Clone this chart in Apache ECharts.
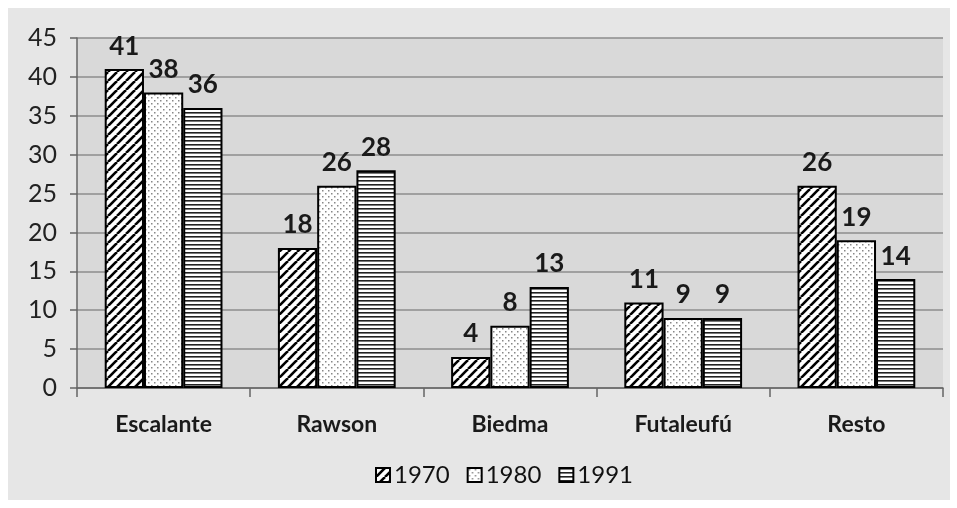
<!DOCTYPE html>
<html>
<head>
<meta charset="utf-8">
<script src="https://cdn.jsdelivr.net/npm/echarts@6/dist/echarts.min.js"></script>
<style>
  html, body { margin: 0; padding: 0; background: #fff; }
  #chart { width: 957px; height: 508px; }
</style>
</head>
<body>
<div id="chart"></div>
<script>
// departamentos
const categories = ['Escalante', 'Rawson', 'Biedma', 'Futaleufú', 'Resto']
const years = ['1970', '1980', '1991']
const v1970 = [41, 18, 4, 11, 26]
const v1980 = [38, 26, 8, 9, 19]
const v1991 = [36, 28, 13, 9, 14]

// pattern fills (like the old Excel hatches)
function makePattern(kind) {
  const c = document.createElement('canvas')
  const ctx = c.getContext('2d')
  if (kind === 'hatch') {
    c.width = 9; c.height = 9
    ctx.fillStyle = '#fff'; ctx.fillRect(0, 0, 9, 9)
    ctx.strokeStyle = '#000'; ctx.lineWidth = 2.6
    for (let o = -9; o <= 9; o += 9) {
      ctx.beginPath(); ctx.moveTo(o, 9); ctx.lineTo(o + 9, 0); ctx.stroke()
    }
  } else if (kind === 'dots') {
    c.width = 6; c.height = 6
    ctx.fillStyle = '#fff'; ctx.fillRect(0, 0, 6, 6)
    ctx.fillStyle = '#888'
    ctx.fillRect(1, 1, 1.5, 1.5)
    ctx.fillRect(4, 4, 1.5, 1.5)
  } else {
    c.width = 4; c.height = 4
    ctx.fillStyle = '#fff'; ctx.fillRect(0, 0, 4, 4)
    ctx.fillStyle = '#222'; ctx.fillRect(0, 0, 4, 1.6)
  }
  return { image: c, repeat: 'repeat' }
}

const fills = [makePattern('hatch'), makePattern('dots'), makePattern('lines')]
const seriesData = [v1970, v1980, v1991]

const chart = echarts.init(document.getElementById('chart'))
const font = 'Lato, "Liberation Sans", sans-serif'

chart.setOption({
  animation: false,
  backgroundColor: '#fff',
  graphic: [{
    type: 'rect', z: -10,
    shape: { x: 8, y: 8, width: 942, height: 492 },
    style: { fill: '#e6e6e6' }
  }],
  grid: {
    left: 77, right: 14, top: 38, bottom: 120,
    show: true, backgroundColor: '#d9d9d9', borderWidth: 0
  },
  legend: {
    bottom: 16, left: 370,
    icon: 'rect',
    itemWidth: 14, itemHeight: 14, itemGap: 17,
    textStyle: { fontFamily: font, fontSize: 24, color: '#111', padding: [0, 0, 0, -1] },
    data: years
  },
  xAxis: {
    type: 'category',
    data: categories,
    axisLine: { lineStyle: { color: '#666', width: 1.5 } },
    axisTick: { show: true, length: 9, lineStyle: { color: '#666', width: 1.5 } },
    axisLabel: { fontFamily: font, fontSize: 23, fontWeight: 'bold', color: '#1a1a1a', margin: 25 }
  },
  yAxis: {
    type: 'value', min: 0, max: 45, interval: 5,
    axisLine: { show: true, lineStyle: { color: '#666', width: 1.5 } },
    axisTick: { show: true, length: 7, lineStyle: { color: '#666', width: 1.5 } },
    axisLabel: { fontFamily: font, fontSize: 25, color: '#222', margin: 20 },
    splitLine: { lineStyle: { color: '#8c8c8c', width: 1.5 } }
  },
  series: years.map((y, i) => ({
    name: y,
    type: 'bar',
    data: seriesData[i],
    barGap: '0%',
    barCategoryGap: '32%',
    itemStyle: { color: fills[i], borderColor: '#000', borderWidth: 2 },
    label: {
      show: true, position: 'top', distance: 10,
      fontFamily: font, fontSize: 26, fontWeight: 'bold', color: '#1a1a1a'
    }
  }))
})
</script>
</body>
</html>
